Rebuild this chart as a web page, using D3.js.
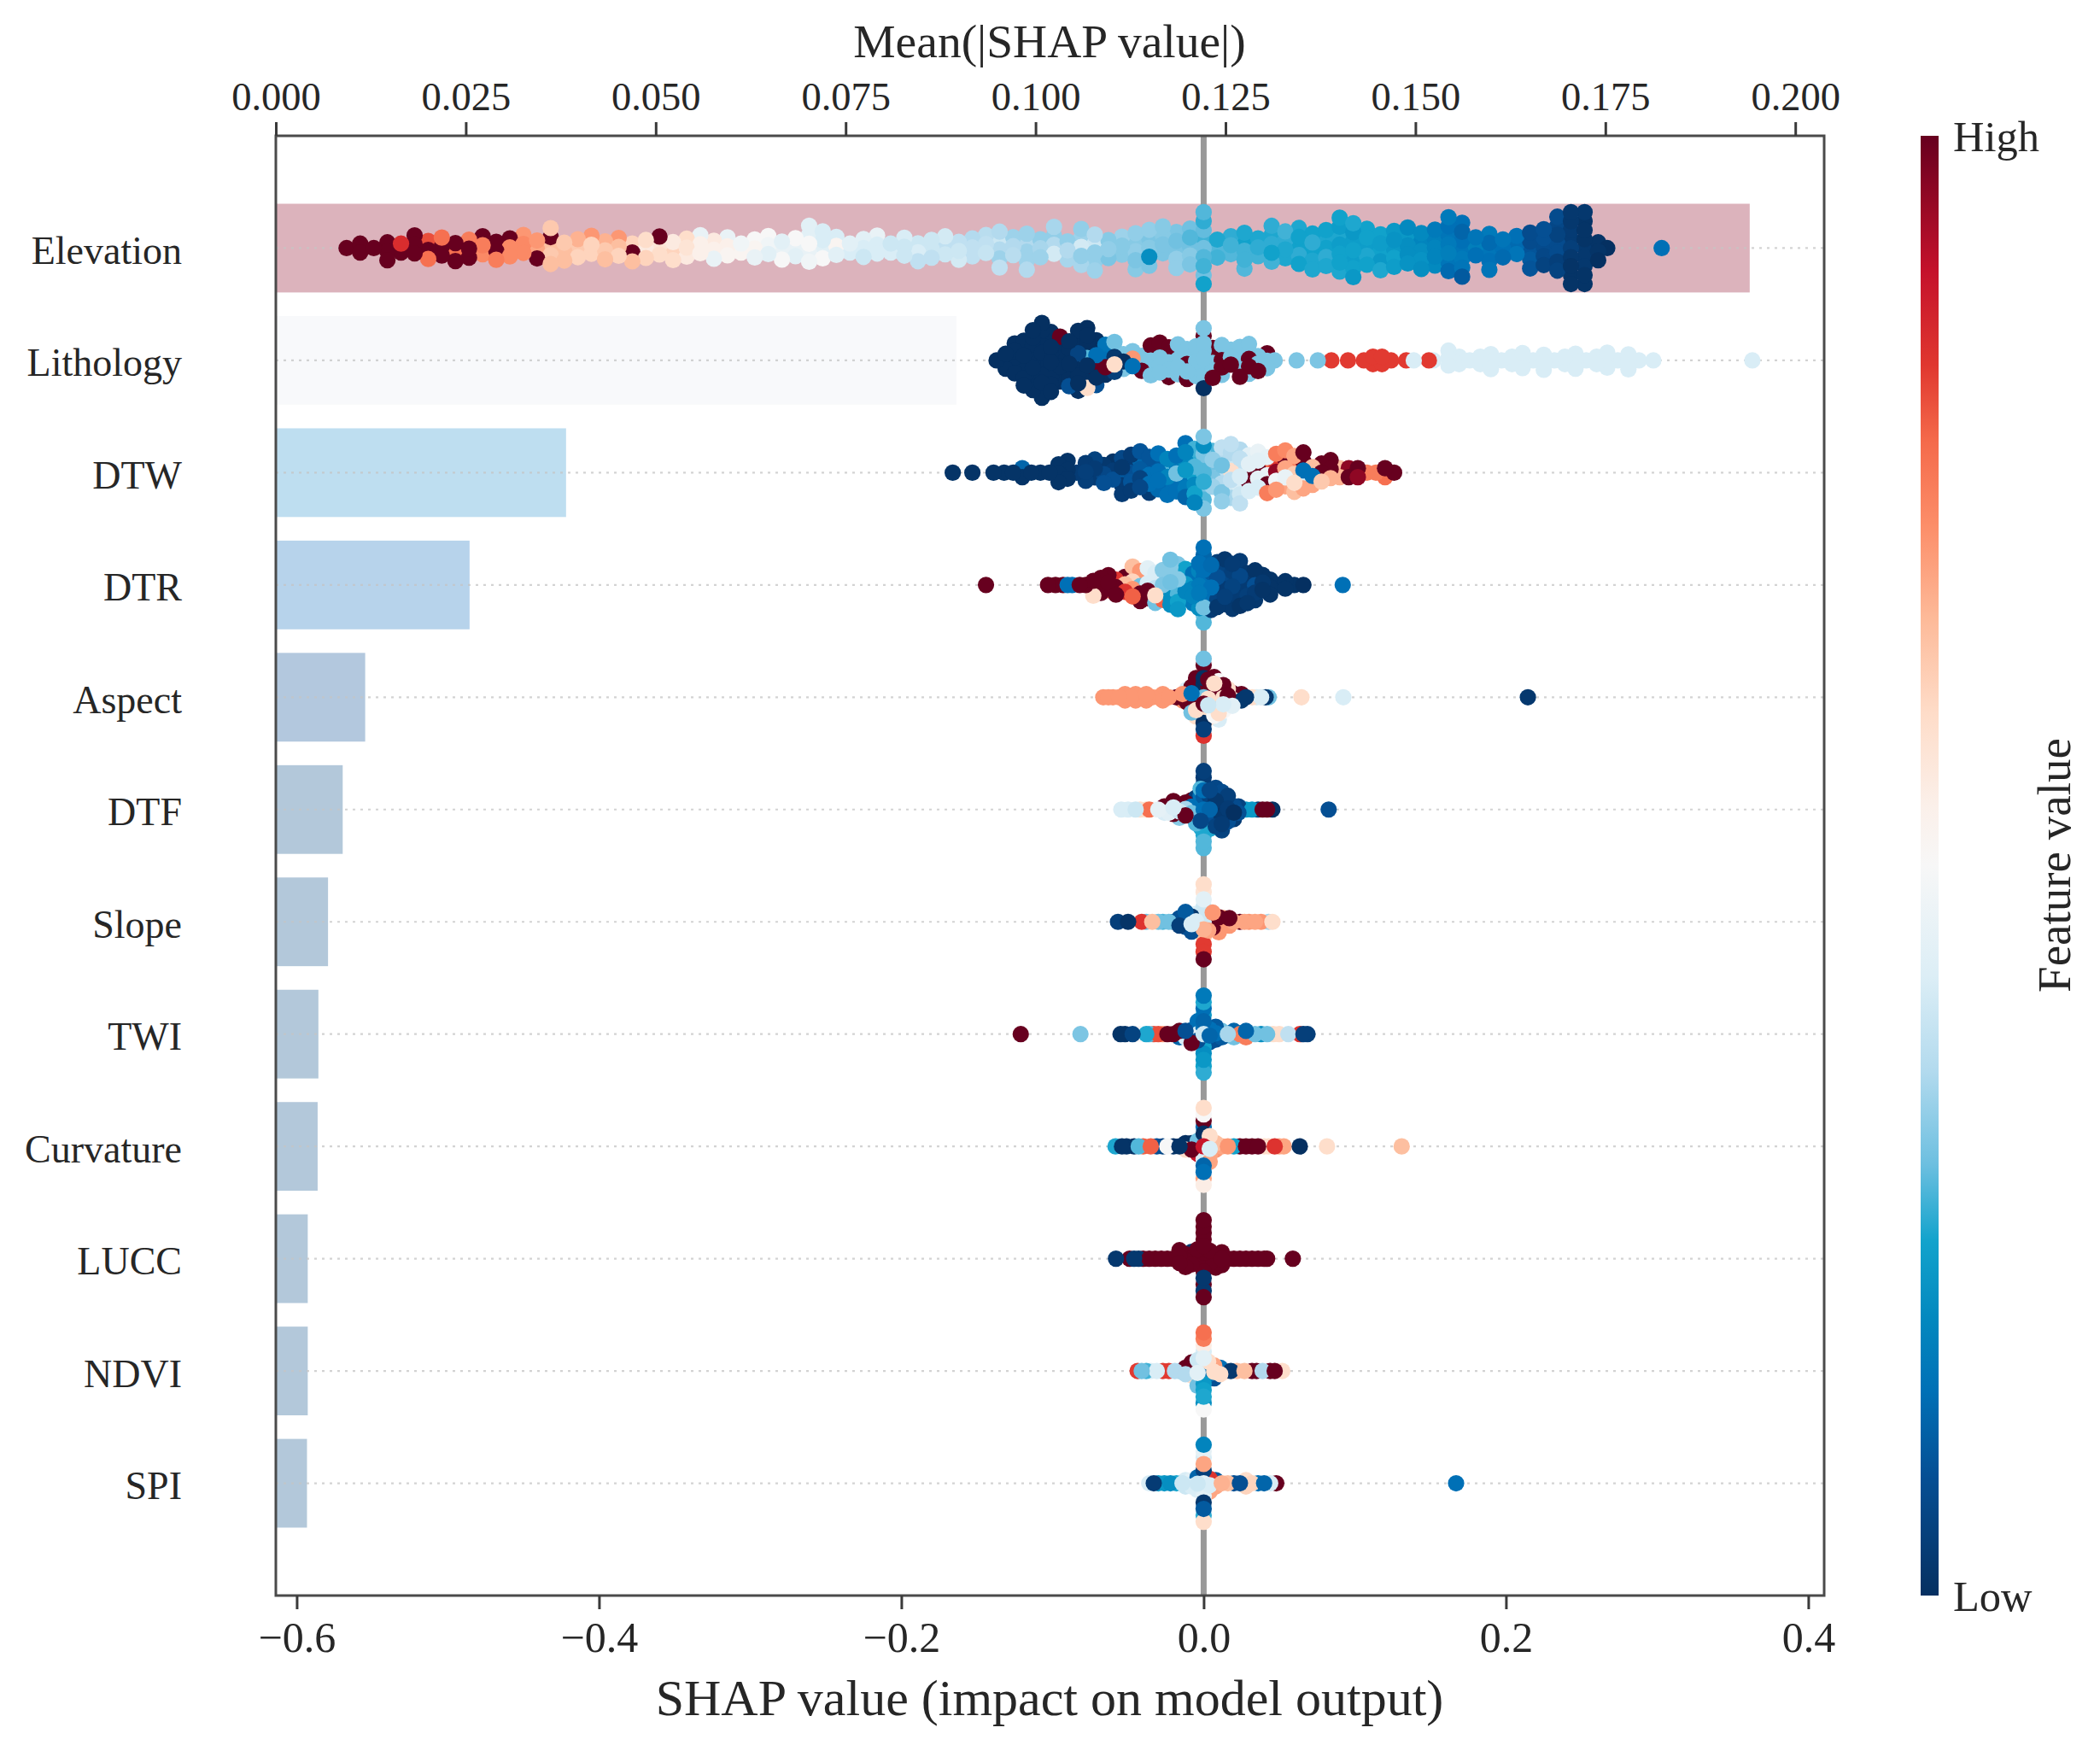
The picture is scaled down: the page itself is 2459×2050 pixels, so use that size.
<!DOCTYPE html>
<html><head><meta charset="utf-8">
<script src="https://cdn.jsdelivr.net/npm/d3@7/dist/d3.min.js"></script>
<style>html,body{margin:0;padding:0;background:#fff}svg{display:block}text{font-family:"Liberation Serif","Times New Roman",serif;fill:#262626}</style>
</head><body><svg id="c" width="2459" height="2050"></svg>
<script>
const features=["Elevation","Lithology","DTW","DTR","Aspect","DTF","Slope","TWI","Curvature","LUCC","NDVI","SPI"];
const meanAbsShap=[.194,.0896,.0382,.0255,.01176,.0088,.00687,.0056,.0055,.0042,.0042,.0041];
const barColors=["#dcb3bc","#f8f9fb","#bedef0","#b7d3eb","#b3c8de","#b3c8da","#b3c8da","#b3c8da","#b3c8da","#b3c8da","#b3c8da","#b3c8da"];
const shapTicks=[-.6,-.4,-.2,0,.2,.4];
const meanTicks=[0,.025,.05,.075,.1,.125,.15,.175,.2];
const toneDomain=[100,90.8,84.3,79.2,73.4,66.9,60.5,54,50,42.4,35.9,29.5,24.3,19.1,14,8.1,0];
const toneRange=["#67001f","#c4112b","#e0372f","#f4694a","#fc8d68","#fdba99","#fedcc8","#fbf0ea","#f7f7f7","#dceef6","#b2daee","#6cbfe0","#12a3cc","#0389bf","#0070b6","#054f94","#053061"];

const elevationShap=[-.567,-.558,-.549,-.54,-.531,-.522,-.513,-.504,-.495,-.486,-.477,-.468,-.459,-.45,-.441,-.432,-.423,-.414,-.405,-.396,-.387,-.378,-.369,-.36,-.351,-.342,-.333,-.324,-.315,-.306,-.297,-.288,-.279,-.27,-.261,-.252,-.243,-.234,-.225,-.216,-.207,-.198,-.189,-.18,-.171,-.162,-.153,-.144,-.135,-.126,-.117,-.108,-.099,-.09,-.081,-.072,-.063,-.054,-.045,-.036,-.027,-.018,-.009,0,.009,.018,.027,.036,.045,.054,.063,.072,.081,.09,.099,.108,.117,.126,.135,.144,.153,.162,.171,.18,.189,.198,.207,.216,.225,.234,.243,.252,.261,.267,.303];
const elevationFeature=[[100],[100,100],[100],[100,100,100],[100,86],[100,100,100],[100,82,78],[100,78,100],[78,100,100],[100,76,100],[76,100,74],[100,100,76],[74,100,74],[74,72,74],[70,72,100],[66,100,64,64,66],[66,64,66],[64,68,62],[62,72,62],[64,68,66],[66,72,62],[100,62,66],[56,60,62],[58,100,60],[62,56,60],[58,60,56],[54,46,54],[54,56,46],[54,46,52],[52,48],[52,50,46],[48,50,44],[46,44,50],[46,50,44],[50,44,46,44,48],[44,42,50,42],[52,42,44],[42,44],[42,44,40],[42,46,42],[42,40],[40,42,40],[42,40,38],[40,40,38],[38,41,40],[40,38,41],[38,36,38],[38,37,39],[36,40,34,36,38],[36,34,37],[34,36,34,34,36],[35,33,34],[36,33,41,35],[36,33,35],[41,34,33,33,35],[33,40,33,36,34],[33,32,31],[32,34,32],[33,32,31,33,32],[32,31,20,33,31],[31,32,31,32],[31,30,33,31,33],[30,28,32,30,31],[30,27,28,29,27,26,30,28,24],[28,25,27],[27,26,28],[27,24,27,25,28],[26,25,27],[26,25,24,26,27],[25,26,25,27],[24,24,26,25,24],[24,26,25,24,25],[24,25,26,24,25],[23,25,24,23,24,24,25],[24,23,23,22,24,25,22],[23,24,25,24,24],[24,23,22,24,25],[22,21,24,22,23],[20,22,20,19,21],[20,18,21,19,20],[18,17,18,16,19],[16,15,17,14,15,16,13],[15,14,16,12,15,14,10],[17,15,14],[15,13,14,16,15],[14,15,13],[13,14,15],[9,7,10,7,9],[7,8,6,8,5],[7,5,7,6,4,7,5],[4,3,2,3,1,2,1,2,1],[2,1,2,1,2,1,1,2,1],[1,1,0],[0],[14]];

const lithologyShap=[-.137,-.131,-.125,-.119,-.113,-.107,-.101,-.095,-.089,-.083,-.077,-.071,-.065,-.059,-.053,-.047,-.041,-.035,-.029,-.023,-.017,-.011,-.005,0,.006,.012,.018,.024,.03,.036,.042,.047,.0615,.0755,.0845,.0955,.106,.112,.118,.124,.134,.139,.149,.152,.162,.169,.176,.183,.19,.197,.204,.211,.218,.225,.232,.239,.246,.253,.26,.267,.274,.281,.288,.2975,.363];
const lithologyFeature=[[0],[0,0,0],[0,0,0,0,0],[0,0,0,8,0,0,0],[0,0,0,0,0,0,0,0,0],[0,0,0,0,0,0,0,0,0,0,0],[0,0,0,0,0,100,0,0,0],[0,0,0,0,0,100,0],[0,0,0,0,0,0,8],[0,5,0,14,0,0,0,0,0],[28,15,0,0,100,0,0,0,60],[14,14,100,30,0,0,8],[14,30,100,15,0],[2,30,60,30,4],[0,31,31],[72,31,14],[31,31,100],[31,31,31,100,31],[31,100,31,100,31],[31,31,31,100,100],[31,100,31,31,31],[100,31,31,31,100],[31,100,31,31,31],[31,31,100,31,31,100,31,31,0],[31,31,31,100,100],[100,31,100,31,31],[31,31,100],[31,100,31,31,100],[100,31,100,31,31],[31,31,100],[31,100,31],[31],[31],[31],[84],[84],[84],[84,84],[84,84],[84],[84],[42],[84],[42],[42,42,42],[42,42],[42],[42,42],[42,42,42],[42],[42,42],[42,42,42],[42],[42,42,42],[42],[42,42],[42,42,42],[42],[42,42],[42,42,42],[42],[42,42,42],[42],[42],[42]];

const dtwShap=[-.166,-.153,-.139,-.132,-.126,-.12,-.114,-.108,-.102,-.096,-.09,-.084,-.078,-.072,-.066,-.06,-.054,-.048,-.042,-.036,-.03,-.024,-.018,-.012,-.006,0,.006,.012,.018,.024,.03,.036,.042,.048,.054,.06,.066,.072,.078,.084,.09,.096,.102,.108,.114,.12,.126];
const dtwFeature=[[1],[1],[1],[1],[1],[1,12],[1],[1],[1],[1,1,1],[1,1,1],[3],[4,3,4],[3,5,3],[6,2,8],[3,1,8],[10,2,3,6,3],[8,3,9,3,3],[10,12,5,9,6],[14,9,14,9,3],[14,10,14,14,13],[18,28,14,18,14],[30,16,14,14,14],[22,19,15,18,16,14,12],[24,28,19,26,24,27,18],[28,28,26,31,31,20,28,31,31],[30,33,31,28,34],[38,30,36,36,31,38,33],[60,40,38,36,41,38,35],[42,38,42,38,40,36,38],[100,44,100,44,42],[100,44,45,46,42],[46,80,100,45,76],[96,84,48,76,72],[70,100,46,74,70],[64,75,60,70,66],[14,100,42,100,70],[14,66,70],[100,100,64],[100,100,68],[68,66],[100,96],[96,100],[76],[76],[78,100],[100]];

const dtrShap=[-.144,-.103,-.098,-.093,-.09,-.087,-.082,-.078,-.073,-.068,-.063,-.058,-.052,-.047,-.042,-.037,-.032,-.027,-.022,-.017,-.012,-.007,-.003,0,.005,.009,.014,.019,.024,.029,.034,.039,.044,.049,.054,.06,.066,.092];
const dtrFeature=[[100],[100],[100],[100],[14],[14],[100],[100],[100,100,60],[100,100,100],[100,100,80],[100,85,100],[66,100,85],[62,100,72,66,80],[30,42,100,72,100],[42,60,100,44,100],[38,44,60,42,30],[31,30,66,32,80],[30,33,18,32,20,30,20],[31,32,28,29,24,31,22],[22,20,18,24,22],[18,16,18,14,16],[16,14,16,18,14,14,20],[14,14,16,14,14,14,30,12,30,14,28],[14,12,16,10,14,13,3],[55,8,6,10,5,4,2],[6,7,3,5,4,2,2],[5,4,3,4,3,3,2],[6,6,4,3,3,3,1],[3,3,4,2,2],[8,2,3,1,2],[2,1,1],[1,1,1],[1],[1,1],[1],[0],[14]];

const aspectShap=[-.0664,-.063,-.06,-.056,-.052,-.048,-.045,-.041,-.038,-.034,-.03,-.027,-.023,-.018,-.014,-.011,-.008,-.005,0,.003,.007,.01,.013,.016,.019,.022,.025,.028,.032,.035,.038,.041,.043,.0647,.0924,.2145];
const aspectFeature=[[72],[72],[72],[72],[72,72],[72],[72,72],[72],[72,72],[72],[72],[72,72],[72],[100],[72,72],[30,42,100],[30,14,85,100,30],[14,30,100,100,60,100,60],[30,14,100,0,100,0,2,60,0,100,4,30,85],[60,100,40,100,14,100,60],[100,100,14,60,42,100,50],[100,100,14,100,60,50,42],[60,100,42,100,50],[100,60,100],[60,100,44],[100,42],[2,100],[2],[60],[42],[42],[2],[30],[60],[42],[2]];

const dtfShap=[-.0545,-.05,-.045,-.042,-.038,-.036,-.033,-.03,-.026,-.023,-.02,-.016,-.012,-.008,-.005,-.002,0,.004,.008,.012,.016,.02,.023,.028,.032,.036,.039,.042,.0455,.0827];
const dtfFeature=[[42],[42],[40],[60],[60],[78],[50],[45],[42,100],[44,100],[42,100,100],[40,100,32],[35,100,100],[14,100,30],[12,8,14,4,28],[12,8,9,14,6,28,25],[14,5,22,10,22,14,22,8,25,3,28,4,28],[12,4,20,5,8,6,25],[3,2,4,10,8,6,5],[1,4,2,6,3,7,5],[3,6,2,4,8],[0,7,3],[8,5],[22],[22],[4],[100],[100],[0],[8]];

const slopeShap=[-.0567,-.05,-.041,-.038,-.034,-.03,-.027,-.023,-.02,-.016,-.012,-.008,-.005,0,.003,.006,.01,.013,.017,.02,.024,.027,.03,.034,.038,.043,.0455];
const slopeFeature=[[4],[1],[85],[30],[66],[30],[28],[30],[8],[4,8],[3,10,8],[42,2,8],[42,42,60],[40,45,68,40,66,44,84,58,84,60,100],[72,100,70],[72,72,100],[72,100,72],[70,72],[72,100],[70],[100],[70],[72],[70],[72],[35],[60]];

const twiShap=[-.121,-.0815,-.055,-.052,-.047,-.045,-.042,-.038,-.036,-.033,-.03,-.027,-.024,-.02,-.016,-.012,-.008,-.004,0,.004,.008,.012,.016,.02,.024,.028,.034,.038,.042,.046,.05,.056,.0636,.066,.0687];
const twiFeature=[[100],[31],[1],[1],[5],[52],[50],[25],[28],[82],[82],[72],[100],[100],[12,100],[42,8],[44,10,100],[40,12,8,14],[40,14,20,12,24,22,20,14,22,25,24,16,26],[12,14,8],[14,10,8],[10,30],[35],[30,12],[76],[76,12],[30],[20],[30],[60],[60],[38],[85],[4],[4]];

const curvatureShap=[-.0583,-.054,-.051,-.046,-.043,-.04,-.035,-.031,-.027,-.024,-.02,-.016,-.012,-.008,-.004,0,.004,.008,.012,.016,.02,.024,.028,.032,.036,.04,.043,.047,.05,.053,.0636,.0816,.131];
const curvatureFeature=[[25],[1],[1],[1],[28],[80],[80],[8],[5],[50],[1],[1],[60,0],[100,0],[14,30,90],[90,14,38,0,42,14,12,100,14,50,70,60,55],[42,14,70,60,70],[72,66],[70],[72],[24],[100],[100],[100],[100],[60],[60],[85],[70],[70],[0],[60],[66]];

const luccShap=[-.058,-.049,-.046,-.043,-.04,-.036,-.032,-.028,-.024,-.02,-.016,-.012,-.008,-.004,0,.004,.008,.012,.016,.02,.024,.028,.032,.036,.04,.042,.059];
const luccFeature=[[2],[100],[2],[2],[100],[100],[100],[100],[100],[100],[100,100,100],[100,100,100],[100,2,100],[2,100,100],[100,100,100,100,100,100,2,100,100,100,2,100,100],[2,100,100],[100,100,100],[100,100,100],[100],[100],[100],[100],[100],[100],[100],[100],[100]];

const ndviShap=[-.0437,-.041,-.038,-.035,-.031,-.027,-.023,-.019,-.016,-.012,-.008,-.004,0,.003,.007,.011,.015,.018,.022,.027,.032,.035,.039,.044,.047,.052];
const ndviFeature=[[84],[30],[27],[42],[42],[84],[84],[36],[33],[36,100],[33,100,60],[44,14,100,40,30],[42,14,80,44,22,42,24,55,25,76,20,78,50],[45,60,14],[60,70,8],[60,14],[66],[2],[66],[66],[100],[100],[36],[100],[100],[60]];

const spiShap=[-.036,-.033,-.03,-.026,-.022,-.018,-.014,-.012,-.008,-.004,0,.004,.008,.012,.016,.02,.024,.028,.032,.036,.04,.044,.048,.167];
const spiFeature=[[42],[3],[22],[22],[20],[25],[40],[40,42],[42,44],[40,12,42],[44,10,42,4,44,70,2,42,10,45,26,18,60],[42,85,70],[70,10],[68],[66],[8],[8],[62,60],[62],[14],[12],[42],[100],[14]];

const shapColumns=[elevationShap,lithologyShap,dtwShap,dtrShap,aspectShap,dtfShap,slopeShap,twiShap,curvatureShap,luccShap,ndviShap,spiShap];
const featureColumns=[elevationFeature,lithologyFeature,dtwFeature,dtrFeature,aspectFeature,dtfFeature,slopeFeature,twiFeature,curvatureFeature,luccFeature,ndviFeature,spiFeature];

const W={l:323,r:2136,t:159,b:1868};
const svg=d3.select("#c");
const x=d3.scaleLinear().domain([-.6138,.4105]).range([W.l,W.r]);
const xTop=d3.scaleLinear().domain([0,(W.r-W.l)/8896]).range([W.l,W.r]);
const y=d3.scaleLinear().domain([-1,12]).range([W.t,W.b]);
const tone=d3.scaleLinear().domain(toneDomain).range(toneRange).interpolate(d3.interpolateRgb);

// mean |SHAP| bars
svg.append("g").selectAll("rect").data(meanAbsShap).join("rect")
  .attr("x",W.l).attr("width",d=>xTop(d)-W.l)
  .attr("y",(d,i)=>y(i-.395)).attr("height",y(.79)-y(0))
  .attr("fill",(d,i)=>barColors[i]);

// row guides and zero line
svg.append("g").selectAll("line").data(features).join("line")
  .attr("x1",W.l).attr("x2",W.r).attr("y1",(d,i)=>y(i)).attr("y2",(d,i)=>y(i))
  .attr("stroke","#c4c4c4").attr("stroke-opacity",.75).attr("stroke-width",2.2).attr("stroke-dasharray","3 6");
svg.append("line").attr("x1",x(0)).attr("x2",x(0)).attr("y1",W.t).attr("y2",W.b)
  .attr("stroke","#999").attr("stroke-width",7);

// layered swarm: each column stacks outward from its row; partial columns are staggered
const pts=[];
shapColumns.forEach((cols,row)=>{
  const layer=i=>i===0?0:(i%2?-Math.ceil(i/2):i/2);
  const maxN=d3.max(featureColumns[row],v=>v.length);
  const step=.4/(Math.ceil((maxN-1)/2)+1);
  cols.forEach((sv,c)=>{
    const n=featureColumns[row][c].length;
    const stagger=n===2?.5:(n>=3&&n<maxN?((c*.618034)%1-.5):0);
    featureColumns[row][c].forEach((fv,i)=>pts.push({sv,fv,pos:row+(layer(i)+stagger)*step}));
  });
});
const drawOrder=pts.map((p,i)=>({p,k:(i*.6180339887)%1})).sort((a,b)=>a.k-b.k).map(d=>d.p);
svg.append("g").selectAll("circle").data(drawOrder).join("circle")
  .attr("cx",d=>x(d.sv)).attr("cy",d=>y(d.pos)).attr("r",9.6).attr("fill",d=>tone(d.fv));

// frame and axes
svg.append("rect").attr("x",W.l).attr("y",W.t).attr("width",W.r-W.l).attr("height",W.b-W.t)
  .attr("fill","none").attr("stroke","#4a4a4a").attr("stroke-width",3);
const styleAxis=(g,fs)=>{g.select(".domain").remove();g.selectAll(".tick line").attr("stroke","#3a3a3a").attr("stroke-width",3);
  g.selectAll("text").attr("font-size",fs).attr("fill","#262626");};
svg.append("g").attr("transform",`translate(0,${W.b})`)
  .call(d3.axisBottom(x).tickValues(shapTicks).tickFormat(d3.format(".1f")).tickSize(16).tickPadding(14))
  .call(g=>styleAxis(g,50));
svg.append("g").attr("transform",`translate(0,${W.t})`)
  .call(d3.axisTop(xTop).tickValues(meanTicks).tickFormat(d3.format(".3f")).tickSize(16).tickPadding(14))
  .call(g=>styleAxis(g,46.5));
svg.append("g").attr("transform",`translate(${W.l},0)`)
  .call(d3.axisLeft(y).tickValues(d3.range(features.length)).tickFormat(i=>features[i]).tickSize(0).tickPadding(110))
  .call(g=>{styleAxis(g,46);g.selectAll("text").attr("dy",".39em");});

svg.append("text").attr("x",1229).attr("y",67).attr("text-anchor","middle").attr("font-size",55.5).text("Mean(|SHAP value|)");
svg.append("text").attr("x",1229).attr("y",2008).attr("text-anchor","middle").attr("font-size",60).text("SHAP value (impact on model output)");

// colour bar
const defs=svg.append("defs");
const grad=defs.append("linearGradient").attr("id","cb").attr("x1",0).attr("x2",0).attr("y1",1).attr("y2",0);
toneDomain.slice().reverse().forEach(t=>grad.append("stop").attr("offset",t/100+"").attr("stop-color",tone(t)));
svg.append("rect").attr("x",2249).attr("y",W.t).attr("width",21).attr("height",W.b-W.t).attr("fill","url(#cb)");
svg.append("text").attr("x",2287).attr("y",177).attr("font-size",50.5).text("High");
svg.append("text").attr("x",2287).attr("y",1886).attr("font-size",50.5).text("Low");
svg.append("text").attr("transform","translate(2424,1013) rotate(-90)").attr("text-anchor","middle").attr("font-size",55).text("Feature value");
</script></body></html>
